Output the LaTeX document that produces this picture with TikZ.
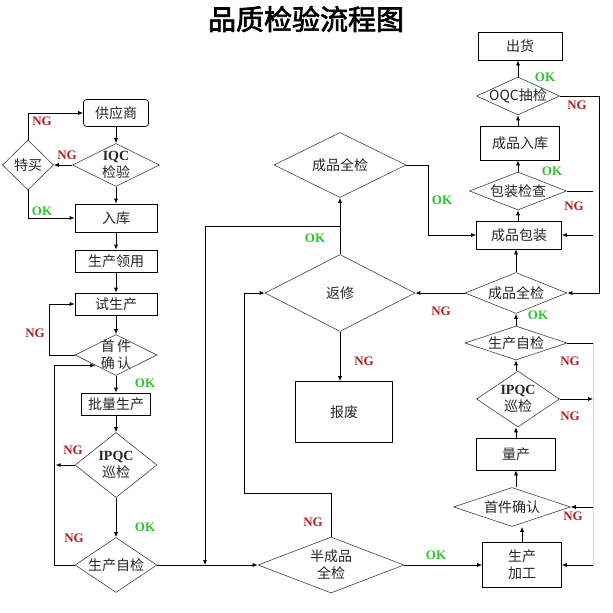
\documentclass[tikz,border=0pt]{standalone}
\usepackage{fontspec}
\usetikzlibrary{shapes.geometric,arrows.meta,calc}
\newfontfamily\cjk{Noto Sans CJK SC}
\newfontfamily\cjktitle[FakeBold=2.5]{Noto Sans CJK SC}
\newfontfamily\tnr{Liberation Serif}
\definecolor{ngred}{RGB}{170,35,35}
\definecolor{okgreen}{RGB}{45,195,45}

\begin{document}
\begin{tikzpicture}[x=1pt, y=-1pt,
    box/.style={draw, line width=0.7pt, inner sep=0pt, align=center, text=black!85,
        font=\cjk\fontsize{14}{17}\selectfont},
    dia/.style={diamond, draw=black!75, line width=0.6pt, inner sep=-6pt, aspect=2,
        align=center, text=black!85, font=\cjk\fontsize{14}{17}\selectfont},
    ng/.style={inner sep=0pt, text=ngred, font=\tnr\bfseries\fontsize{13}{13}\selectfont},
    ok/.style={inner sep=0pt, text=okgreen, font=\tnr\bfseries\fontsize{13}{13}\selectfont},
    arr/.style={line width=0.7pt, -{Latex[length=5pt,width=4pt]}},
    conn/.style={line width=0.7pt}]
    \useasboundingbox (0,0) rectangle (613,613);
    \node[font=\cjktitle\fontsize{28}{30}\selectfont] (title) at (306,19) {品质检验流程图};

    % left column
    \node[box, rounded corners=3pt, minimum width=65pt, minimum height=27pt] (gys) at (116,113) {供应商};
    \node[dia, minimum width=87pt, minimum height=43pt] (iqc) at (116,165) {{\tnr\bfseries IQC}\\检验};
    \node[dia, aspect=1, minimum width=51pt, minimum height=50pt] (tm) at (28,165) {特买};
    \node[box, minimum width=82pt, minimum height=28pt] (rk) at (116,218) {入库};
    \node[box, minimum width=82pt, minimum height=22pt] (lingyong) at (116,261) {生产领用};
    \node[box, minimum width=82pt, minimum height=22pt] (ssc) at (116,304) {试生产};
    \node[dia, minimum width=82pt, minimum height=41pt] (sjqr) at (116,355) {首\,件\\确\,认};
    \node[box, minimum width=69pt, minimum height=22pt] (plsc) at (116,404) {批量生产};
    \node[dia, minimum width=82pt, minimum height=65pt] (ipqcL) at (116,465) {{\tnr\bfseries IPQC}\\巡检};
    \node[dia, minimum width=82pt, minimum height=55pt] (zjL) at (116,565) {生产自检};

    % middle
    \node[dia, minimum width=132pt, minimum height=65pt] (cpqjM) at (340,165) {成品全检};
    \node[dia, minimum width=150pt, minimum height=77pt] (fx) at (340,293) {返修};
    \node[box, minimum width=97pt, minimum height=61pt] (bf) at (344,412) {报废};
    \node[dia, minimum width=146pt, minimum height=56pt] (bcp) at (331,565) {半成品\\全检};

    % right column
    \node[box, minimum width=84pt, minimum height=28pt] (ch) at (520,46) {出货};
    \node[dia, aspect=2.2, minimum width=83pt, minimum height=38pt] (oqc) at (518,96) {OQC抽检};
    \node[box, minimum width=79pt, minimum height=34pt] (cprk) at (520,143) {成品入库};
    \node[dia, minimum width=97pt, minimum height=38pt] (bzjc) at (518,191) {包装检查};
    \node[box, minimum width=85pt, minimum height=28pt] (cpbz) at (519,235) {成品包装};
    \node[dia, minimum width=102pt, minimum height=41pt] (cpqjR) at (516,293) {成品全检};
    \node[dia, minimum width=102pt, minimum height=34pt] (zjR) at (516,343) {生产自检};
    \node[dia, minimum width=83pt, minimum height=56pt] (ipqcR) at (518,399) {{\tnr\bfseries IPQC}\\巡检};
    \node[box, minimum width=79pt, minimum height=32pt] (lc) at (516,454) {量产};
    \node[dia, minimum width=117pt, minimum height=39pt] (sjqrR) at (512,507) {首件确认};
    \node[box, minimum width=79pt, minimum height=45pt] (scjg) at (522,565) {生产\\加工};

    \coordinate (edgeR) at (593,0);
    \coordinate (okturn) at ($(fx.north)!0.5!(cpqjM.south)$);
    \coordinate (joinL) at (205,565);
    \coordinate (ngturn) at (244,493);

    % left flow
    \draw[arr] (gys) -- (iqc);
    \draw[arr] (iqc) -- (rk);
    \draw[arr] (rk) -- (lingyong);
    \draw[arr] (lingyong) -- (ssc);
    \draw[arr] (ssc) -- (sjqr);
    \draw[arr] (sjqr) -- (plsc);
    \draw[arr] (plsc) -- (ipqcL);
    \draw[arr] (ipqcL) -- (zjL);
    \draw[arr] (iqc.west) -- (tm.east);
    \draw[arr] (tm.north) |- (gys.west);
    \draw[arr] (tm.south) |- (rk.west);
    \draw[arr] (sjqr.west) -- ++(-25,0) |- (ssc.west);
    \draw[arr] (zjL.west) -- ++(-20,0) |- (sjqr.south west);
    \draw[arr] (ipqcL.west) -- ++(-19,0);
    \draw[arr] (zjL.east) -- (bcp.west);

    % middle flow
    \draw[arr] (fx.north) -- (cpqjM.south);
    \draw[arr] (okturn) -| (joinL);
    \draw[arr] (cpqjM.east) -- ++(22,0) |- (cpbz.west);
    \draw[arr] (fx.south) -- (fx.south |- bf.north);
    \draw[arr] (bcp.north) |- (ngturn) |- (fx.west);
    \draw[arr] (bcp.east) -- (scjg.west);
    \draw[arr] (cpqjR.west) -- (fx.east);

    % right flow
    \draw[arr] (scjg.north) -- (scjg.north |- sjqrR.south);
    \draw[arr] (sjqrR.north -| lc.south) -- (lc.south);
    \draw[arr] (lc.north) -- (lc.north |- ipqcR.south);
    \draw[arr] (ipqcR.north -| zjR.south) -- (zjR.south);
    \draw[arr] (zjR) -- (cpqjR);
    \draw[arr] (cpqjR.north) -- (cpqjR.north |- cpbz.south);
    \draw[arr] (cpbz.north -| bzjc.south) -- (bzjc.south);
    \draw[arr] (bzjc.north) -- (bzjc.north |- cprk.south);
    \draw[arr] (cprk.north -| oqc.south) -- (oqc.south);
    \draw[arr] (oqc.north) -- (oqc.north |- ch.south);
    \draw[arr] (oqc.east) -- ++(40,0) |- (cpqjR.east);
    \draw[conn] (bzjc.east) -- (bzjc.east -| edgeR);
    \draw[arr] (cpbz.east -| edgeR) -- (cpbz.east);
    \draw[conn] (zjR.east) -- (zjR.east -| edgeR);
    \draw[arr] (ipqcR.east) -- (ipqcR.east -| edgeR);
    \draw[arr] (sjqrR.east -| edgeR) -- (sjqrR.east);
    \draw[arr] (scjg.east -| edgeR) -- (scjg.east);
    \draw[black!15, line width=0.5pt] (zjR.east -| edgeR) -- (scjg.east -| edgeR);

    % labels
    \node[ng] (ng1) at (42,121) {NG};
    \node[ng] (ng2) at (67,155) {NG};
    \node[ok] (ok1) at (42,211) {OK};
    \node[ng] (ng3) at (35,333) {NG};
    \node[ok] (ok2) at (145,383) {OK};
    \node[ng] (ng4) at (73,450) {NG};
    \node[ok] (ok3) at (145,527) {OK};
    \node[ng] (ng5) at (74,538) {NG};
    \node[ok] (ok4) at (315,238) {OK};
    \node[ok] (ok5) at (442,200) {OK};
    \node[ng] (ng6) at (364,361) {NG};
    \node[ng] (ng7) at (441,311) {NG};
    \node[ng] (ng8) at (313,522) {NG};
    \node[ok] (ok6) at (436,555) {OK};
    \node[ok] (ok7) at (545,77) {OK};
    \node[ng] (ng9) at (577,105) {NG};
    \node[ok] (ok8) at (552,171) {OK};
    \node[ng] (ng10) at (574,206) {NG};
    \node[ok] (ok9) at (538,315) {OK};
    \node[ng] (ng11) at (570,361) {NG};
    \node[ng] (ng12) at (570,416) {NG};
    \node[ng] (ng13) at (573,516) {NG};
\end{tikzpicture}
\end{document}
